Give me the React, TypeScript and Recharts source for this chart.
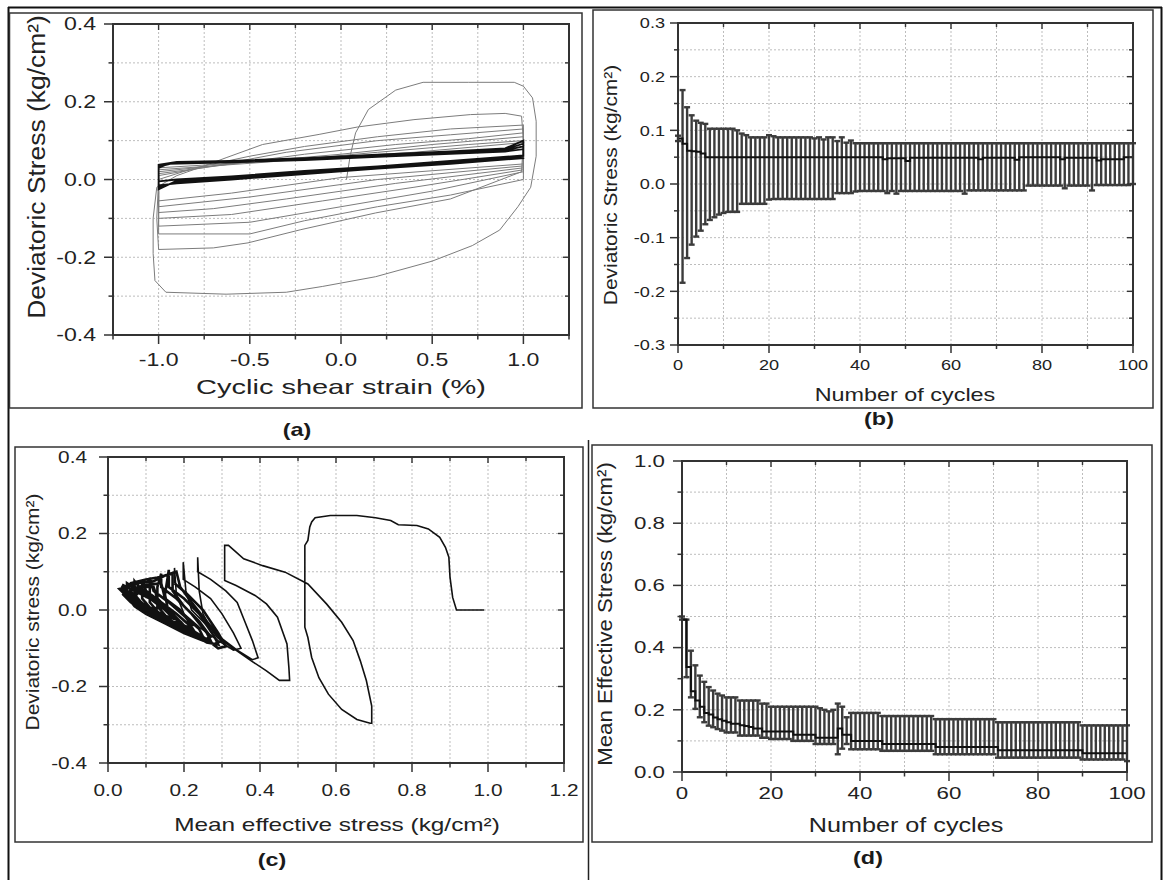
import { LineChart, Line, XAxis, YAxis, CartesianGrid, ErrorBar } from 'recharts';

const FONT = '"Liberation Sans", Arial, Helvetica, sans-serif';
const AXIS = '#333';
const GRID = '#bdbdbd';
const INK = '#222';

// (a) cyclic shear strain (%) vs deviatoric stress — early cycles (grey) and converged band (black)
const aEarly: [number, number][] = [
  [0.03, 0.0], [0.05, 0.06], [0.08, 0.12], [0.15, 0.18], [0.3, 0.23], [0.45, 0.25], [0.7, 0.25], [0.95, 0.25],
  [1.0, 0.24], [1.05, 0.21], [1.07, 0.15], [1.07, 0.06], [1.04, -0.02], [0.97, -0.07], [0.87, -0.13], [0.72, -0.17],
  [0.5, -0.21], [0.19, -0.25], [-0.1, -0.275], [-0.3, -0.29], [-0.63, -0.295], [-0.96, -0.29], [-1.02, -0.26],
  [-1.03, -0.19], [-1.03, -0.1], [-1.01, -0.02],
  [-0.9, 0.01], [-0.75, 0.035], [-0.63, 0.056], [-0.43, 0.09], [-0.12, 0.116], [0.09, 0.135], [0.4, 0.154],
  [0.71, 0.167], [0.9, 0.17], [0.99, 0.163], [1.0, 0.1], [0.99, 0.02],
  [0.6, -0.05], [0.19, -0.086], [-0.22, -0.129], [-0.51, -0.163], [-0.7, -0.176], [-1.0, -0.18], [-1.01, -0.1], [-1.0, 0.0],
  [-0.8, 0.03], [-0.5, 0.06], [-0.2, 0.085], [0.2, 0.11], [0.6, 0.13], [1.0, 0.14], [1.0, 0.0],
  [0.6, -0.04], [0.2, -0.07], [-0.2, -0.106], [-0.5, -0.14], [-1.0, -0.14], [-1.0, 0.01],
  [-0.7, 0.035], [-0.3, 0.07], [0.2, 0.1], [0.6, 0.115], [1.0, 0.13], [1.0, 0.02],
  [0.5, -0.03], [0.0, -0.07], [-0.5, -0.11], [-1.0, -0.12], [-1.0, 0.015],
  [-0.6, 0.04], [-0.2, 0.065], [0.3, 0.09], [0.7, 0.105], [1.0, 0.12], [1.0, 0.025],
  [0.4, -0.02], [-0.1, -0.055], [-0.6, -0.09], [-1.0, -0.1], [-1.0, 0.02],
  [-0.5, 0.045], [0.0, 0.065], [0.5, 0.09], [1.0, 0.11], [1.0, 0.03],
  [0.3, -0.01], [-0.3, -0.05], [-0.7, -0.075], [-1.0, -0.085], [-1.0, 0.025],
  [-0.4, 0.045], [0.2, 0.07], [0.7, 0.09], [1.0, 0.1], [1.0, 0.035],
  [0.2, 0.0], [-0.5, -0.045], [-1.0, -0.07], [-1.0, 0.03],
  [-0.3, 0.05], [0.4, 0.07], [1.0, 0.095], [1.0, 0.04],
  [0.0, 0.005], [-0.6, -0.035], [-1.0, -0.055], [-1.0, 0.03],
];

const aLate: [number, number][] = [
  [-1.0, 0.03], [-0.95, 0.04], [-0.6, 0.044], [-0.2, 0.05], [0.2, 0.058], [0.6, 0.066], [0.9, 0.072], [1.0, 0.078],
  [1.0, 0.055], [0.6, 0.04], [0.2, 0.028], [-0.2, 0.014], [-0.6, 0.0], [-0.9, -0.01], [-1.0, -0.015],
  [-1.0, 0.033], [-0.93, 0.041], [-0.6, 0.046], [-0.2, 0.052], [0.2, 0.06], [0.6, 0.068], [0.9, 0.075], [1.0, 0.085],
  [1.0, 0.058], [0.6, 0.043], [0.2, 0.03], [-0.2, 0.017], [-0.6, 0.003], [-0.9, -0.006], [-1.0, -0.02],
  [-1.0, 0.036], [-0.92, 0.043], [-0.6, 0.047], [-0.2, 0.054], [0.2, 0.062], [0.6, 0.07], [0.9, 0.078], [1.0, 0.092],
  [1.0, 0.06], [0.6, 0.045], [0.2, 0.032], [-0.2, 0.02], [-0.6, 0.006], [-0.9, -0.003], [-1.0, -0.025],
  [-1.0, 0.038], [-0.9, 0.045], [-0.6, 0.048], [-0.2, 0.055], [0.2, 0.064], [0.6, 0.072], [0.9, 0.08], [1.0, 0.1],
  [1.0, 0.062], [0.6, 0.048], [0.2, 0.034], [-0.2, 0.022], [-0.6, 0.008], [-0.9, 0.0], [-1.0, -0.005],
];

// (b) and (d) per-cycle values
const cycles = [
  0, 1, 2, 3, 4, 5, 6, 7, 8, 9, 10, 11, 12, 13, 14, 15, 16, 17, 18, 19, 20, 21, 22, 23, 24, 25, 26, 27, 28, 29,
  30, 31, 32, 33, 34, 35, 36, 37, 38, 39, 40, 41, 42, 43, 44, 45, 46, 47, 48, 49, 50, 51, 52, 53, 54, 55, 56, 57,
  58, 59, 60, 61, 62, 63, 64, 65, 66, 67, 68, 69, 70, 71, 72, 73, 74, 75, 76, 77, 78, 79, 80, 81, 82, 83, 84, 85,
  86, 87, 88, 89, 90, 91, 92, 93, 94, 95, 96, 97, 98, 99, 100,
];

const bHigh = [
  0.09, 0.175, 0.143, 0.128, 0.118, 0.114, 0.112, 0.103, 0.103, 0.103, 0.103, 0.103, 0.103, 0.1, 0.094, 0.091,
  0.087, 0.087, 0.087, 0.087, 0.091, 0.089, 0.087, 0.087, 0.087, 0.087, 0.087, 0.087, 0.087, 0.087, 0.085, 0.087,
  0.083, 0.087, 0.087, 0.08, 0.087, 0.077, 0.081, 0.076,
  0.076, 0.076, 0.076, 0.076, 0.076, 0.076, 0.076, 0.076, 0.076, 0.076, 0.076, 0.076, 0.076, 0.076, 0.076, 0.076,
  0.076, 0.076, 0.076, 0.076, 0.076, 0.076, 0.076, 0.076, 0.076, 0.076, 0.076, 0.076, 0.076, 0.076, 0.076, 0.076,
  0.076, 0.076, 0.076, 0.076, 0.076, 0.076, 0.076, 0.076, 0.076, 0.076, 0.076, 0.076, 0.076, 0.076, 0.076, 0.076,
  0.076, 0.076, 0.076, 0.076, 0.076, 0.076, 0.076, 0.076, 0.076, 0.076, 0.076, 0.076, 0.076,
];
const bLow = [
  0.08, -0.184, -0.138, -0.113, -0.098, -0.087, -0.075, -0.067, -0.062, -0.057, -0.054, -0.052, -0.052, -0.052,
  -0.037, -0.037, -0.037, -0.037, -0.037, -0.037, -0.029,
  -0.028, -0.028, -0.028, -0.028, -0.028, -0.028, -0.028, -0.028, -0.028, -0.028, -0.028, -0.028, -0.028, -0.028,
  -0.017, -0.017, -0.017, -0.017, -0.014,
  -0.013, -0.013, -0.013, -0.013, -0.013, -0.013, -0.017, -0.013, -0.018,
  -0.013, -0.013, -0.013, -0.013, -0.013, -0.013, -0.013, -0.013, -0.013, -0.013, -0.013, -0.013, -0.013, -0.013,
  -0.018,
  -0.012, -0.012, -0.012, -0.012, -0.012, -0.012, -0.012, -0.012, -0.012, -0.012, -0.012, -0.012, -0.012,
  -0.003, -0.003, -0.003, -0.003, -0.003, -0.003, -0.003, -0.003, -0.008,
  -0.003, -0.003, -0.003, -0.003, -0.003, -0.012,
  -0.002, -0.002, -0.002, -0.002, -0.002, -0.002, -0.002, -0.002, 0.0,
];
const bMean = [
  0.085, 0.075, 0.062, 0.061, 0.06, 0.057,
  0.05, 0.05, 0.05, 0.05, 0.05, 0.05, 0.05, 0.05, 0.05, 0.05, 0.05, 0.05, 0.05, 0.05, 0.05, 0.05, 0.05, 0.05, 0.05,
  0.05, 0.05, 0.05, 0.05, 0.05, 0.05, 0.05, 0.05, 0.05, 0.05, 0.05, 0.05, 0.05, 0.05, 0.05, 0.05, 0.05, 0.05, 0.05,
  0.05,
  0.046, 0.048, 0.048, 0.048, 0.048, 0.043,
  0.049, 0.049, 0.049, 0.049, 0.049, 0.049, 0.049, 0.049, 0.049, 0.049, 0.049, 0.049, 0.049, 0.049, 0.049, 0.046,
  0.049, 0.049, 0.049, 0.049, 0.049, 0.049, 0.049, 0.045,
  0.05, 0.05, 0.05, 0.05, 0.05, 0.05, 0.05, 0.05, 0.05, 0.046,
  0.049, 0.049, 0.049, 0.049, 0.049, 0.049, 0.049, 0.044,
  0.046, 0.046, 0.046, 0.046, 0.046, 0.05, 0.05, 0.05,
];

// (c) stress path: mean effective stress vs deviatoric stress
const cMain: [number, number][] = [
  [0.99, 0.0], [0.917, 0.0], [0.907, 0.033], [0.9, 0.086], [0.897, 0.138], [0.888, 0.164], [0.873, 0.19],
  [0.843, 0.212], [0.813, 0.221], [0.764, 0.223], [0.744, 0.234], [0.704, 0.241], [0.655, 0.247], [0.585, 0.247],
  [0.545, 0.241], [0.536, 0.23], [0.531, 0.217], [0.526, 0.182], [0.518, 0.169], [0.518, -0.045], [0.526, -0.072],
  [0.536, -0.124], [0.555, -0.177], [0.58, -0.22], [0.615, -0.26], [0.655, -0.286], [0.69, -0.296], [0.694, -0.296],
  [0.694, -0.251], [0.68, -0.185], [0.664, -0.133], [0.645, -0.08], [0.615, -0.032], [0.575, 0.016], [0.526, 0.068],
  [0.466, 0.099], [0.407, 0.116], [0.357, 0.134], [0.332, 0.156], [0.317, 0.169], [0.307, 0.169], [0.307, 0.077],
  [0.337, 0.064], [0.387, 0.038], [0.417, 0.016], [0.446, -0.019], [0.471, -0.089], [0.476, -0.15], [0.478, -0.184],
  [0.451, -0.184], [0.417, -0.159], [0.377, -0.133], [0.327, -0.098], [0.288, -0.072], [0.268, -0.045],
  [0.25, -0.01], [0.24, 0.05], [0.236, 0.138], [0.236, 0.1], [0.27, 0.08], [0.31, 0.05], [0.34, 0.02],
  [0.36, -0.03], [0.38, -0.08], [0.395, -0.125], [0.38, -0.13], [0.34, -0.105], [0.3, -0.075], [0.26, -0.04],
  [0.22, 0.0], [0.205, 0.05], [0.198, 0.125], [0.198, 0.08], [0.23, 0.06], [0.27, 0.03], [0.3, -0.01],
  [0.33, -0.06], [0.35, -0.1], [0.33, -0.105], [0.29, -0.08], [0.24, -0.045], [0.2, -0.01], [0.18, 0.04],
  [0.175, 0.11], [0.175, 0.07],
];
const cCluster: [number, number][] = [
  [0.175, 0.07], [0.21, 0.04], [0.25, 0.0], [0.29, -0.06], [0.31, -0.095], [0.29, -0.1], [0.25, -0.07],
  [0.2, -0.04], [0.16, -0.01], [0.15, 0.04], [0.16, 0.105], [0.16, 0.06], [0.2, 0.03], [0.24, -0.01],
  [0.28, -0.07], [0.29, -0.09], [0.26, -0.085], [0.21, -0.055], [0.16, -0.025], [0.13, 0.01], [0.13, 0.06],
  [0.14, 0.095], [0.14, 0.06], [0.18, 0.03], [0.22, -0.01], [0.26, -0.06], [0.27, -0.08], [0.24, -0.075],
  [0.19, -0.045], [0.14, -0.015], [0.11, 0.02], [0.11, 0.085], [0.12, 0.05], [0.16, 0.02], [0.2, -0.015],
  [0.24, -0.05], [0.25, -0.07], [0.22, -0.065], [0.17, -0.035], [0.12, -0.005], [0.09, 0.03], [0.09, 0.08],
  [0.1, 0.05], [0.14, 0.02], [0.18, -0.01], [0.22, -0.045], [0.23, -0.06], [0.2, -0.055], [0.15, -0.025],
  [0.1, 0.005], [0.07, 0.04], [0.07, 0.075], [0.09, 0.05], [0.13, 0.02], [0.17, -0.01], [0.2, -0.04],
  [0.21, -0.05], [0.18, -0.045], [0.13, -0.015], [0.08, 0.015], [0.05, 0.05], [0.05, 0.07], [0.08, 0.05],
  [0.12, 0.025], [0.16, -0.005], [0.19, -0.03], [0.16, -0.035], [0.11, -0.005], [0.06, 0.025], [0.035, 0.055],
  [0.04, 0.065], [0.07, 0.05], [0.11, 0.03], [0.15, 0.0], [0.17, -0.02], [0.14, -0.02], [0.09, 0.005],
  [0.05, 0.035], [0.03, 0.055], [0.05, 0.06], [0.08, 0.045], [0.12, 0.025], [0.14, 0.005], [0.11, 0.005],
  [0.07, 0.025], [0.04, 0.05], [0.06, 0.065], [0.09, 0.05], [0.06, 0.04], [0.04, 0.06],
  [0.08, 0.07], [0.12, 0.075], [0.15, 0.09], [0.18, 0.1], [0.19, 0.06], [0.22, 0.02], [0.26, -0.03],
  [0.3, -0.08], [0.28, -0.09], [0.23, -0.07], [0.18, -0.04], [0.13, -0.02], [0.09, 0.0], [0.06, 0.02],
  [0.04, 0.04], [0.06, 0.07], [0.1, 0.08], [0.13, 0.085], [0.17, 0.095], [0.17, 0.05], [0.2, 0.01],
  [0.24, -0.03], [0.27, -0.07], [0.25, -0.08], [0.2, -0.06], [0.15, -0.035], [0.1, -0.01], [0.07, 0.01],
  [0.05, 0.035], [0.06, 0.055], [0.1, 0.065], [0.14, 0.07], [0.15, 0.03], [0.19, 0.0], [0.22, -0.04],
  [0.2, -0.045], [0.15, -0.02], [0.11, 0.0], [0.08, 0.02], [0.06, 0.05], [0.09, 0.06], [0.12, 0.06],
  [0.13, 0.03], [0.16, 0.0], [0.18, -0.025], [0.15, -0.015], [0.1, 0.01], [0.07, 0.035], [0.09, 0.055],
  [0.11, 0.04], [0.13, 0.015],
];

const dHigh = [
  0.5, 0.49, 0.39, 0.343, 0.31, 0.29, 0.273, 0.262, 0.252, 0.246, 0.24, 0.24, 0.24,
  0.23, 0.23, 0.23, 0.23, 0.23, 0.22, 0.22,
  0.21, 0.21, 0.21, 0.21, 0.21, 0.21, 0.21, 0.21, 0.21, 0.21, 0.21,
  0.205, 0.2, 0.195, 0.2, 0.22, 0.21, 0.176,
  0.19, 0.19, 0.19, 0.19, 0.19, 0.19, 0.19,
  0.18, 0.18, 0.18, 0.18, 0.18, 0.18, 0.18, 0.18, 0.18, 0.18, 0.18, 0.18,
  0.17, 0.17, 0.17, 0.17, 0.17, 0.17, 0.17, 0.17, 0.17, 0.17, 0.17, 0.17, 0.17, 0.17,
  0.16, 0.16, 0.16, 0.16, 0.16, 0.16, 0.16, 0.16, 0.16, 0.16, 0.16, 0.16, 0.16, 0.16, 0.16, 0.16, 0.16, 0.16, 0.16,
  0.15, 0.15, 0.15, 0.15, 0.15, 0.15, 0.15, 0.15, 0.15, 0.15, 0.15,
];
const dLow = [
  0.49, 0.305, 0.24, 0.203, 0.176, 0.16, 0.149, 0.144, 0.138, 0.133, 0.127, 0.127, 0.127,
  0.117, 0.117, 0.117, 0.117, 0.117, 0.11, 0.11,
  0.106, 0.106, 0.106, 0.106, 0.106, 0.1, 0.1, 0.1, 0.1, 0.1, 0.09, 0.09, 0.09, 0.09, 0.09,
  0.057, 0.075, 0.09,
  0.073, 0.073, 0.073, 0.073, 0.073, 0.073, 0.073,
  0.068, 0.068, 0.068, 0.068, 0.068, 0.068, 0.068, 0.068, 0.068, 0.068, 0.068, 0.068,
  0.057, 0.057, 0.057, 0.057, 0.057, 0.057, 0.057, 0.057, 0.057, 0.057, 0.057, 0.057, 0.057, 0.057,
  0.046, 0.046, 0.046, 0.046, 0.046, 0.046, 0.046, 0.046, 0.046, 0.046, 0.046, 0.046, 0.046, 0.046, 0.046, 0.046,
  0.046, 0.046, 0.046,
  0.04, 0.04, 0.04, 0.04, 0.04, 0.04, 0.04, 0.04, 0.04, 0.04, 0.035,
];
const dMean = [
  0.49, 0.338, 0.26, 0.23, 0.21, 0.19, 0.185, 0.175, 0.17, 0.165, 0.16, 0.155, 0.155, 0.15, 0.148, 0.145, 0.14, 0.14,
  0.13, 0.13, 0.13, 0.13, 0.13, 0.13, 0.13, 0.12, 0.12, 0.12, 0.12, 0.12, 0.11, 0.11, 0.11, 0.11, 0.11,
  0.14, 0.12, 0.12,
  0.1, 0.1, 0.1, 0.1, 0.1, 0.1, 0.1,
  0.09, 0.09, 0.09, 0.09, 0.09, 0.09, 0.09, 0.09, 0.09, 0.09, 0.09, 0.09,
  0.08, 0.08, 0.08, 0.08, 0.08, 0.08, 0.08, 0.08, 0.08, 0.08, 0.08, 0.08, 0.08, 0.08,
  0.07, 0.07, 0.07, 0.07, 0.07, 0.07, 0.07, 0.07, 0.07, 0.07, 0.07, 0.07, 0.07, 0.07, 0.07, 0.07, 0.07, 0.07, 0.07,
  0.06, 0.06, 0.06, 0.06, 0.06, 0.06, 0.06, 0.06, 0.06, 0.06, 0.06,
];

// tick values
const aXTicks = [-1.25, -1, -0.75, -0.5, -0.25, 0, 0.25, 0.5, 0.75, 1, 1.25];
const aXMajors = [-1, -0.5, 0, 0.5, 1];
const aYTicks = [-0.4, -0.3, -0.2, -0.1, 0, 0.1, 0.2, 0.3, 0.4];
const aYMajors = [-0.4, -0.2, 0, 0.2, 0.4];
const cycleTicks = [0, 10, 20, 30, 40, 50, 60, 70, 80, 90, 100];
const cycleMajors = [0, 20, 40, 60, 80, 100];
const bYTicks = [-0.3, -0.25, -0.2, -0.15, -0.1, -0.05, 0, 0.05, 0.1, 0.15, 0.2, 0.25, 0.3];
const bYMajors = [-0.3, -0.2, -0.1, 0, 0.1, 0.2, 0.3];
const cXTicks = [0, 0.1, 0.2, 0.3, 0.4, 0.5, 0.6, 0.7, 0.8, 0.9, 1, 1.1, 1.2];
const cXMajors = [0, 0.2, 0.4, 0.6, 0.8, 1, 1.2];
const dYTicks = [0, 0.1, 0.2, 0.3, 0.4, 0.5, 0.6, 0.7, 0.8, 0.9, 1];
const dYMajors = [0, 0.2, 0.4, 0.6, 0.8, 1];

const toPts = (arr: [number, number][]) => arr.map(([x, y]) => ({ x, y }));
const bRows = cycles.map((c, i) => ({ cycle: c, mean: bMean[i], err: [bMean[i] - bLow[i], bHigh[i] - bMean[i]] }));
const dRows = cycles.map((c, i) => ({ cycle: c, mean: dMean[i], err: [dMean[i] - dLow[i], dHigh[i] - dMean[i]] }));

const isIn = (v: number, list: number[]) => list.some((m) => Math.abs(m - v) < 1e-9);

function SText({ x, y, size, sx = 1, anchor = 'middle', rotate = 0, weight = 400, fill = INK, children }: any) {
  return (
    <text
      transform={`translate(${x},${y}) rotate(${rotate}) scale(${sx},1)`}
      textAnchor={anchor}
      dominantBaseline="central"
      fontSize={size}
      fontFamily={FONT}
      fontWeight={weight}
      fill={fill}
    >
      {children}
    </text>
  );
}

interface PanelCfg {
  left: number; top: number; width: number; height: number;
  mt: number; mr: number; yW: number; xH: number;
  xDomain: [number, number]; yDomain: [number, number];
  xTicks: number[]; xMajors: number[]; xDigits: number;
  yTicks: number[]; yMajors: number[]; yDigits: number;
  xT: number; xM: number; yT: number; yM: number;
  font: number; sx: number;
}

const plotW = (c: PanelCfg) => c.width - c.yW - c.mr;
const plotH = (c: PanelCfg) => c.height - c.mt - c.xH;

// bottom axis tick: outward tick + label, plus the matching inward tick on the top frame
function bottomTick(cfg: PanelCfg) {
  return (p: any) => {
    const { x, y, payload } = p;
    const y0 = y - cfg.xT - cfg.xM;
    const yTop = y0 - plotH(cfg);
    const major = isIn(payload.value, cfg.xMajors);
    return (
      <g>
        <line x1={x} x2={x} y1={y0} y2={y0 + (major ? cfg.xT : cfg.xT / 2)} stroke={AXIS} strokeWidth={1.5} />
        <line x1={x} x2={x} y1={yTop} y2={yTop + (major ? 6 : 4)} stroke={AXIS} strokeWidth={1.4} />
        {major ? <SText x={x} y={y} size={cfg.font} sx={cfg.sx}>{Number(payload.value).toFixed(cfg.xDigits)}</SText> : null}
      </g>
    );
  };
}

// left axis tick: outward tick + label, plus the matching inward tick on the right frame
function leftTick(cfg: PanelCfg) {
  return (p: any) => {
    const { x, y, payload } = p;
    const x0 = x + cfg.yT + cfg.yM;
    const xRight = x0 + plotW(cfg);
    const major = isIn(payload.value, cfg.yMajors);
    return (
      <g>
        <line x1={x0} x2={x0 - (major ? cfg.yT : cfg.yT / 2)} y1={y} y2={y} stroke={AXIS} strokeWidth={1.5} />
        <line x1={xRight} x2={xRight - (major ? 6 : 4)} y1={y} y2={y} stroke={AXIS} strokeWidth={1.4} />
        {major ? <SText x={x} y={y} size={cfg.font} sx={cfg.sx} anchor="end">{Number(payload.value).toFixed(cfg.yDigits)}</SText> : null}
      </g>
    );
  };
}

function Panel({ cfg, data, xKey, children }: any) {
  const axisLine = { stroke: AXIS, strokeWidth: 2 };
  return (
    <div style={{ position: 'absolute', left: cfg.left, top: cfg.top }}>
      <LineChart width={cfg.width} height={cfg.height} data={data} margin={{ top: cfg.mt, right: cfg.mr, left: 0, bottom: 0 }}>
        <CartesianGrid xAxisId="x" yAxisId="y" stroke={GRID} strokeDasharray="2 2" />
        <XAxis xAxisId="x" dataKey={xKey} type="number" domain={cfg.xDomain} ticks={cfg.xTicks} interval={0}
          allowDataOverflow height={cfg.xH} tickSize={cfg.xT} tickMargin={cfg.xM} tickLine={false}
          axisLine={axisLine} tick={bottomTick(cfg)} />
        <YAxis yAxisId="y" type="number" domain={cfg.yDomain} ticks={cfg.yTicks} interval={0} allowDataOverflow
          width={cfg.yW} tickSize={cfg.yT} tickMargin={cfg.yM} tickLine={false} axisLine={axisLine}
          tick={leftTick(cfg)} />
        {children}
      </LineChart>
    </div>
  );
}

// frame around the plot box (top and right edges complete the axes)
function PlotFrame({ cfg }: { cfg: PanelCfg }) {
  return (
    <rect x={cfg.left + cfg.yW} y={cfg.top + cfg.mt} width={plotW(cfg)} height={plotH(cfg)}
      fill="none" stroke={AXIS} strokeWidth={2} />
  );
}

const cfgA: PanelCfg = {
  left: 9, top: 13, width: 573, height: 395, mt: 11, mr: 13, yW: 104, xH: 73,
  xDomain: [-1.25, 1.25], yDomain: [-0.4, 0.4], xTicks: aXTicks, xMajors: aXMajors, xDigits: 1,
  yTicks: aYTicks, yMajors: aYMajors, yDigits: 1, xT: 9, xM: 16, yT: 9, yM: 8, font: 17.5, sx: 1.32,
};
const cfgB: PanelCfg = {
  left: 593, top: 10, width: 560, height: 398, mt: 13, mr: 20, yW: 85, xH: 63,
  xDomain: [0, 100], yDomain: [-0.3, 0.3], xTicks: cycleTicks, xMajors: cycleMajors, xDigits: 0,
  yTicks: bYTicks, yMajors: bYMajors, yDigits: 1, xT: 8, xM: 12, yT: 8, yM: 5, font: 14.5, sx: 1.25,
};
const cfgC: PanelCfg = {
  left: 15, top: 447, width: 568, height: 395, mt: 10, mr: 19, yW: 93, xH: 79,
  xDomain: [0, 1.2], yDomain: [-0.4, 0.4], xTicks: cXTicks, xMajors: cXMajors, xDigits: 1,
  yTicks: aYTicks, yMajors: aYMajors, yDigits: 1, xT: 9, xM: 18, yT: 9, yM: 12, font: 16, sx: 1.3,
};
const cfgD: PanelCfg = {
  left: 592, top: 445, width: 560, height: 397, mt: 16, mr: 25, yW: 90, xH: 70,
  xDomain: [0, 100], yDomain: [0, 1], xTicks: cycleTicks, xMajors: cycleMajors, xDigits: 0,
  yTicks: dYTicks, yMajors: dYMajors, yDigits: 1, xT: 9, xM: 12, yT: 9, yM: 8, font: 16.5, sx: 1.35,
};

export default function App() {
  return (
    <div style={{ position: 'absolute', left: 0, top: 0, width: 1164, height: 880, background: '#fff', overflow: 'hidden' }}>
      <Panel cfg={cfgA} xKey="x">
        <Line xAxisId="x" yAxisId="y" data={toPts(aEarly)} dataKey="y" type="linear" stroke="#7c7c7c"
          strokeWidth={1} dot={false} isAnimationActive={false} />
        <Line xAxisId="x" yAxisId="y" data={toPts(aLate)} dataKey="y" type="linear" stroke="#111"
          strokeWidth={1.8} dot={false} isAnimationActive={false} />
      </Panel>

      <Panel cfg={cfgB} data={bRows} xKey="cycle">
        <Line xAxisId="x" yAxisId="y" dataKey="mean" type="stepAfter" stroke="#111" strokeWidth={2}
          dot={false} isAnimationActive={false}>
          <ErrorBar dataKey="err" width={3} stroke="#3c3c3c" strokeWidth={2.4} direction="y" isAnimationActive={false} />
        </Line>
      </Panel>

      <Panel cfg={cfgC} xKey="x">
        <Line xAxisId="x" yAxisId="y" data={toPts(cMain)} dataKey="y" type="linear" stroke="#111"
          strokeWidth={1.6} dot={false} isAnimationActive={false} />
        <Line xAxisId="x" yAxisId="y" data={toPts(cCluster)} dataKey="y" type="linear" stroke="#111"
          strokeWidth={2.6} dot={false} isAnimationActive={false} />
      </Panel>

      <Panel cfg={cfgD} data={dRows} xKey="cycle">
        <Line xAxisId="x" yAxisId="y" dataKey="mean" type="stepAfter" stroke="#111" strokeWidth={2}
          dot={false} isAnimationActive={false}>
          <ErrorBar dataKey="err" width={3} stroke="#3c3c3c" strokeWidth={2.4} direction="y" isAnimationActive={false} />
        </Line>
      </Panel>

      <svg width={1164} height={880} style={{ position: 'absolute', left: 0, top: 0, pointerEvents: 'none' }}>
        <line x1={8} x2={1162} y1={7.5} y2={7.5} stroke="#111" strokeWidth={2} />
        <line x1={8.5} x2={8.5} y1={7} y2={880} stroke="#111" strokeWidth={2} />
        <line x1={1161.5} x2={1161.5} y1={7} y2={880} stroke="#111" strokeWidth={2} />
        <line x1={588.5} x2={588.5} y1={440} y2={880} stroke="#222" strokeWidth={1.5} />
        <rect x={9.5} y={13} width={572.5} height={395} fill="none" stroke="#333" strokeWidth={1.5} />
        <rect x={593} y={10} width={560} height={398} fill="none" stroke="#333" strokeWidth={1.5} />
        <rect x={15} y={447} width={568} height={395} fill="none" stroke="#333" strokeWidth={1.5} />
        <rect x={592} y={445} width={560} height={397} fill="none" stroke="#333" strokeWidth={1.5} />

        <PlotFrame cfg={cfgA} />
        <PlotFrame cfg={cfgB} />
        <PlotFrame cfg={cfgC} />
        <PlotFrame cfg={cfgD} />

        <SText x={341} y={387} size={21} sx={1.38}>Cyclic shear strain (%)</SText>
        <SText x={36} y={167} size={24} sx={1.1} rotate={-90}>Deviatoric Stress (kg/cm²)</SText>
        <SText x={905} y={395} size={18} sx={1.3}>Number of cycles</SText>
        <SText x={610} y={185} size={19} sx={1.1} rotate={-90}>Deviatoric Stress (kg/cm²)</SText>
        <SText x={337} y={825} size={18.6} sx={1.31}>Mean effective stress (kg/cm²)</SText>
        <SText x={32} y={612} size={19} sx={1.1} rotate={-90}>Deviatoric stress (kg/cm²)</SText>
        <SText x={906} y={825} size={20} sx={1.26}>Number of cycles</SText>
        <SText x={605} y={614} size={21} sx={1.06} rotate={-90}>Mean Effective Stress (kg/cm²)</SText>

        <SText x={297} y={430} size={18} sx={1.3} weight={700} fill="#1a1a1a">(a)</SText>
        <SText x={879} y={419} size={18} sx={1.3} weight={700} fill="#1a1a1a">(b)</SText>
        <SText x={272} y={860} size={18} sx={1.3} weight={700} fill="#1a1a1a">(c)</SText>
        <SText x={868} y={858} size={18} sx={1.3} weight={700} fill="#1a1a1a">(d)</SText>
      </svg>
    </div>
  );
}
